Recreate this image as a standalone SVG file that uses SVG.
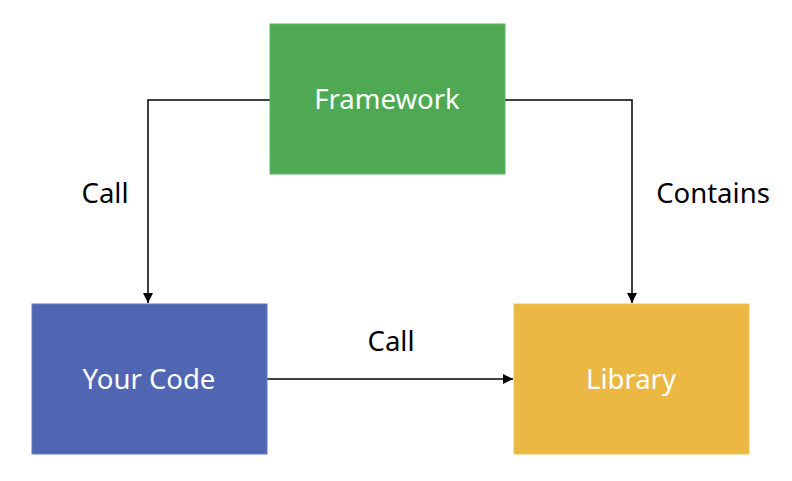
<svg xmlns="http://www.w3.org/2000/svg" width="792" height="481" viewBox="0 0 792 481">
<defs>
<style>
.box{stroke-width:1}
.lbl{font-family:"Noto Sans","Open Sans",sans-serif;font-size:27.5px;text-anchor:middle}
.w{fill:#ffffff}
.k{fill:#000000}
.c{fill:none;stroke:#000;stroke-width:1.5}
</style>
<marker id="ah" viewBox="0 0 10 10" refX="10" refY="5" markerWidth="10" markerHeight="10" markerUnits="userSpaceOnUse" orient="auto">
<path d="M0,0 L10,5 L0,10 z" fill="#000"/>
</marker>
</defs>
<rect width="792" height="481" fill="#fff"/>
<g id="connectors">
<path class="c" d="M270,100 H148 V303" marker-end="url(#ah)"/>
<path class="c" d="M505,100 H632 V303" marker-end="url(#ah)"/>
<path class="c" d="M267,379 H513" marker-end="url(#ah)"/>
<text class="lbl k" x="105" y="203">Call</text>
<text class="lbl k" x="713" y="203">Contains</text>
<text class="lbl k" x="391" y="351">Call</text>
</g>
<g id="framework">
<rect class="box" x="270" y="24" width="235" height="150" fill="#4EA952" stroke="#5DB661"/>
<text class="lbl w" x="387" y="109">Framework</text>
</g>
<g id="yourcode">
<rect class="box" x="32" y="304" width="235" height="150" fill="#5066B3" stroke="#6479C0"/>
<text class="lbl w" x="149" y="389">Your Code</text>
</g>
<g id="library">
<rect class="box" x="514" y="304" width="235" height="150" fill="#EBB943" stroke="#EFC35A"/>
<text class="lbl w" x="631" y="389">Library</text>
</g>
</svg>
